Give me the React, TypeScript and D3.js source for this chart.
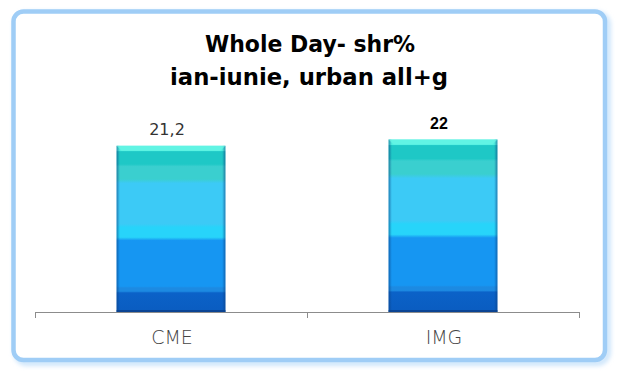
import React from "react";
import * as d3 from "d3";

const categories = ["CME", "IMG"];
const values = [21.2, 22];
const valueLabels = ["21,2", "22"];
const labelBold = [false, true];
const titleLines = ["Whole Day- shr%", "ian-iunie, urban all+g"];

const W = 620;
const H = 377;

const bandStops: [number, string][] = [
  [0.0, "#4ff0e0"],
  [0.03, "#4ff0e0"],
  [0.035, "#1ec8c6"],
  [0.11, "#1ec8c6"],
  [0.125, "#3acfcf"],
  [0.2, "#3acfcf"],
  [0.225, "#3ccaf6"],
  [0.47, "#3ccaf6"],
  [0.49, "#27d4fa"],
  [0.55, "#27d4fa"],
  [0.57, "#1696f2"],
  [0.845, "#1696f2"],
  [0.855, "#1c8ae2"],
  [0.875, "#1c8ae2"],
  [0.885, "#0b62c8"],
  [1.0, "#0a5cc0"],
];

export default function App() {
  const x = d3.scaleBand<string>().domain(categories).range([35, 579]).padding(0);
  const y = d3.scaleLinear().domain([0, 25]).range([312, 116]);
  const barW = x.bandwidth() * 0.4;
  const axisY = y(0);
  const ticks = [35, ...categories.map((c) => (x(c) as number) + x.bandwidth())];

  return (
    <svg
      width={W}
      height={H}
      style={{ position: "absolute", left: 0, top: 0, background: "#fff" }}
    >
      <defs>
        <linearGradient id="barGrad" x1="0" y1="0" x2="0" y2="1">
          {bandStops.map(([o, c], i) => (
            <stop key={i} offset={o} stopColor={c} />
          ))}
        </linearGradient>
        <linearGradient id="edgeGrad" x1="0" y1="0" x2="1" y2="0">
          <stop offset="0" stopColor="#0a3f80" stopOpacity={0.55} />
          <stop offset="0.03" stopColor="#0a3f80" stopOpacity={0} />
          <stop offset="0.97" stopColor="#0a3f80" stopOpacity={0} />
          <stop offset="1" stopColor="#0a3f80" stopOpacity={0.55} />
        </linearGradient>
        <filter id="glow" x="-5%" y="-5%" width="110%" height="110%">
          <feGaussianBlur stdDeviation="2" />
        </filter>
      </defs>

      {/* frame shadow */}
      <rect
        x={16}
        y={14}
        width={592}
        height={349}
        rx={11}
        fill="none"
        stroke="#cfe6fb"
        strokeWidth={6}
        filter="url(#glow)"
      />
      {/* frame */}
      <rect
        x={13.5}
        y={11.5}
        width={591.5}
        height={348.5}
        rx={10}
        fill="#fff"
        stroke="#9fcdf6"
        strokeWidth={4.5}
      />

      {/* title */}
      <g
        fontFamily="DejaVu Sans, sans-serif"
        fontWeight="bold"
        fontSize={23}
        fill="#000"
        textAnchor="middle"
      >
        <text x={310} y={52} textLength={210} lengthAdjust="spacingAndGlyphs">
          {titleLines[0]}
        </text>
        <text x={309} y={85} textLength={278} lengthAdjust="spacingAndGlyphs">
          {titleLines[1]}
        </text>
      </g>

      {/* bars */}
      {categories.map((c, i) => {
        const cx = (x(c) as number) + x.bandwidth() / 2;
        const top = y(values[i]);
        const h = axisY - top;
        return (
          <g key={c}>
            <rect x={cx - barW / 2} y={top} width={barW} height={h} fill="url(#barGrad)" />
            <rect x={cx - barW / 2} y={top} width={barW} height={h} fill="url(#edgeGrad)" />
            <rect
              x={cx - barW / 2}
              y={axisY - 2}
              width={barW}
              height={2}
              fill="#0a3f88"
              opacity={0.8}
            />
            <polygon
              points={`${cx - barW / 2},${top} ${cx + barW / 2},${top} ${cx + barW / 2 - 5},${top + 5} ${cx - barW / 2 + 5},${top + 5}`}
              fill="#6af5e6"
              opacity={0.7}
            />
            <text
              x={cx - 4}
              y={top - (labelBold[i] ? 11 : 11)}
              textAnchor="middle"
              fontFamily={labelBold[i] ? "Liberation Sans, Arial, sans-serif" : "DejaVu Sans, sans-serif"}
              fontWeight={labelBold[i] ? "bold" : "normal"}
              fontSize={labelBold[i] ? 16 : 16}
              fill={labelBold[i] ? "#000" : "#333"}
            >
              {valueLabels[i]}
            </text>
          </g>
        );
      })}

      {/* axis */}
      <line x1={35} x2={579} y1={axisY + 0.5} y2={axisY + 0.5} stroke="#8c8c8c" strokeWidth={1} />
      {ticks.map((t, i) => (
        <line key={i} x1={t + 0.5} x2={t + 0.5} y1={axisY} y2={axisY + 6} stroke="#8c8c8c" strokeWidth={1} />
      ))}
      {categories.map((c) => (
        <text
          key={c}
          x={(x(c) as number) + x.bandwidth() / 2 + 1}
          y={344}
          textAnchor="middle"
          fontFamily="DejaVu Sans, sans-serif"
          fontWeight={300}
          fontSize={19}
          fill="#444"
        >
          {c}
        </text>
      ))}
    </svg>
  );
}
